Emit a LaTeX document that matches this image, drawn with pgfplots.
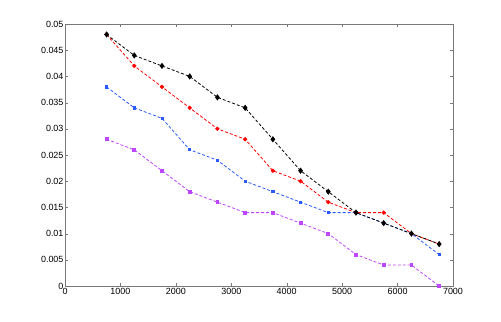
\documentclass[border=0pt]{standalone}
\usepackage{fontspec}
\setmainfont{Liberation Sans}
\usepackage{pgfplots}
\pgfplotsset{compat=1.18}

\definecolor{mlgray}{RGB}{120,120,120}
\definecolor{mlblue}{RGB}{40,90,255}
\definecolor{mlpurple}{RGB}{190,70,255}

\begin{document}
\begin{tikzpicture}
\useasboundingbox (-65bp,-36bp) rectangle (436bp,286bp);
\begin{axis}[
    at={(0,0)}, anchor=south west,
    scale only axis,
    width=388bp, height=262bp,
    xmin=0, xmax=7000,
    ymin=0, ymax=0.05,
    xtick={0,1000,...,7000},
    ytick={0,0.005,...,0.05},
    scaled y ticks=false,
    scaled x ticks=false,
    tick align=inside,
    tick style={mlgray},
    axis line style={mlgray},
    major tick length=3.5pt,
    tick label style={font=\fontsize{9}{10}\selectfont},
    xticklabel style={yshift=1pt},
    yticklabel style={xshift=2pt},
    /pgf/number format/assume math mode=true,
    /pgf/number format/1000 sep={},
    yticklabel style={/pgf/number format/.cd, fixed, precision=3},
    every axis plot/.append style={line width=0.8pt, dash pattern=on 3pt off 2pt},
]
\addplot[mlpurple, mark=square*, mark size=1.4pt, mark options={solid}]
coordinates {
    (750,0.028) (1250,0.026) (1750,0.022) (2250,0.018) (2750,0.016)
    (3250,0.014) (3750,0.014) (4250,0.012) (4750,0.010) (5250,0.006)
    (5750,0.004) (6250,0.004) (6750,0.000)
};
\addplot[mlblue, mark=square*, mark size=1.1pt, mark options={solid}]
coordinates {
    (750,0.038) (1250,0.034) (1750,0.032) (2250,0.026) (2750,0.024)
    (3250,0.020) (3750,0.018) (4250,0.016) (4750,0.014) (5250,0.014)
    (5750,0.012) (6250,0.010) (6750,0.006)
};
\addplot[red, mark=*, mark size=1.7pt, mark options={solid}]
coordinates {
    (750,0.048) (1250,0.042) (1750,0.038) (2250,0.034) (2750,0.030)
    (3250,0.028) (3750,0.022) (4250,0.020) (4750,0.016) (5250,0.014)
    (5750,0.014) (6250,0.010) (6750,0.008)
};
\addplot[black, mark=diamond*, mark size=2.5pt, mark options={solid}]
coordinates {
    (750,0.048) (1250,0.044) (1750,0.042) (2250,0.040) (2750,0.036)
    (3250,0.034) (3750,0.028) (4250,0.022) (4750,0.018) (5250,0.014)
    (5750,0.012) (6250,0.010) (6750,0.008)
};
\end{axis}
\end{tikzpicture}
\end{document}
